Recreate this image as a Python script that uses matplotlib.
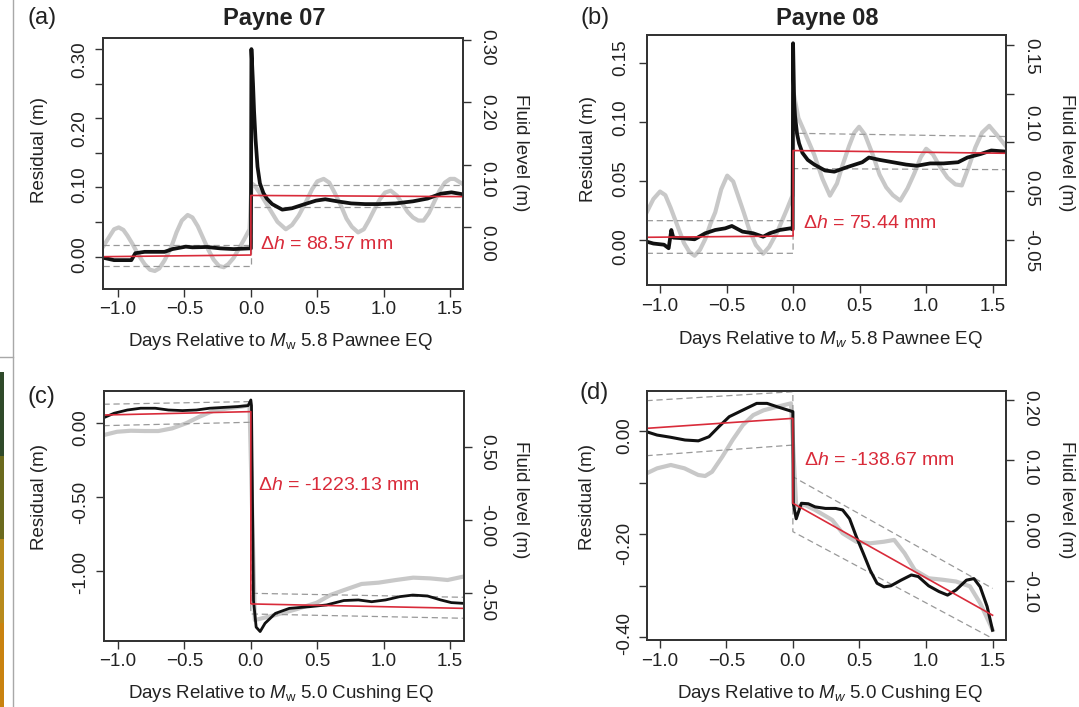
import matplotlib
matplotlib.use('Agg')
import matplotlib.pyplot as plt
from matplotlib.transforms import ScaledTranslation
from matplotlib.colors import LinearSegmentedColormap
import numpy as np

plt.rcParams['font.family'] = ['Liberation Sans', 'DejaVu Sans']
plt.rcParams['mathtext.fontset'] = 'custom'
plt.rcParams['mathtext.rm'] = 'Liberation Sans'
plt.rcParams['mathtext.it'] = 'Liberation Sans:italic'
plt.rcParams['mathtext.bf'] = 'Liberation Sans:bold'

# ---- data ----
xticks = [-1.0, -0.5, 0.0, 0.5, 1.0, 1.5]
xticklabels = ['\u22121.0', '\u22120.5', '0.0', '0.5', '1.0', '1.5']

# (a) Payne 07, Pawnee
a_res_x = [-1.1, -1.03, -0.9, -0.87, -0.8, -0.65, -0.59, -0.49, -0.44, -0.33, -0.23, -0.13, -0.01, 0.0,
           0.004, 0.016, 0.024, 0.035, 0.05, 0.068, 0.094, 0.12, 0.16, 0.236, 0.31, 0.39, 0.49, 0.56,
           0.65, 0.755, 0.86, 0.96, 1.09, 1.22, 1.33, 1.43, 1.51, 1.6]
a_res_y = [-0.002, -0.005, -0.005, 0.005, 0.007, 0.007, 0.011, 0.0145, 0.0135, 0.014, 0.012, 0.011, 0.012, 0.012,
           0.30, 0.25, 0.21, 0.17, 0.13, 0.106, 0.092, 0.084, 0.076, 0.068, 0.07, 0.075, 0.081, 0.083,
           0.08, 0.077, 0.076, 0.076, 0.077, 0.08, 0.084, 0.091, 0.093, 0.09]
a_flu_x = [-1.11, -1.06, -1.03, -0.995, -0.96, -0.93, -0.89, -0.85, -0.8, -0.76, -0.723, -0.69, -0.65, -0.6,
           -0.56, -0.52, -0.476, -0.44, -0.4, -0.36, -0.32, -0.28, -0.24, -0.204, -0.17, -0.13, -0.09, -0.05,
           -0.01, 0.005, 0.03, 0.08, 0.12, 0.16, 0.2, 0.263, 0.31, 0.36, 0.41, 0.46, 0.5, 0.548, 0.59, 0.63,
           0.68, 0.72, 0.76, 0.807, 0.85, 0.89, 0.93, 0.97, 1.01, 1.053, 1.1, 1.14, 1.18, 1.22, 1.26, 1.3,
           1.34, 1.38, 1.42, 1.46, 1.5, 1.533, 1.57, 1.6]
a_flu_y = [-0.031, -0.014, -0.004, -0.001, -0.005, -0.014, -0.028, -0.044, -0.06, -0.069, -0.071, -0.067, -0.054,
           -0.033, -0.009, 0.01, 0.019, 0.015, 0.001, -0.018, -0.037, -0.053, -0.063, -0.065, -0.06, -0.05,
           -0.035, -0.02, -0.004, 0.07, 0.066, 0.05, 0.036, 0.022, 0.008, -0.004, 0.003, 0.018, 0.038, 0.06,
           0.073, 0.077, 0.071, 0.055, 0.033, 0.013, 0.0, -0.009, -0.004, 0.011, 0.028, 0.044, 0.055, 0.058,
           0.05, 0.037, 0.024, 0.015, 0.01, 0.01, 0.022, 0.04, 0.058, 0.071, 0.077, 0.077, 0.072, 0.068]
a_fit_x = [-1.11, 0.0, 0.0, 1.6]
a_fit_y = [0.0, 0.0024, 0.0885, 0.0868]
a_up_y = [0.017, 0.017, 0.1037, 0.1037]
a_lo_y = [-0.0135, -0.0135, 0.0724, 0.0724]

# (b) Payne 08, Pawnee
b_res_x = [-1.1, -1.05, -0.97, -0.935, -0.915, -0.9, -0.82, -0.74, -0.66, -0.585, -0.51, -0.46, -0.38, -0.3,
           -0.225, -0.175, -0.1, -0.02, -0.003, 0.0, 0.008, 0.015, 0.03, 0.045, 0.07, 0.11, 0.16, 0.24, 0.31,
           0.41, 0.52, 0.57, 0.65, 0.75, 0.85, 0.93, 1.03, 1.13, 1.24, 1.31, 1.41, 1.49, 1.6]
b_res_y = [-0.0014, -0.003, -0.004, -0.007, 0.0085, 0.002, 0.0014, 0.0006, 0.0057, 0.0085, 0.0099, 0.0119, 0.0071,
           0.0057, 0.0028, 0.0057, 0.0085, 0.0099, 0.009, 0.167, 0.118, 0.105, 0.09, 0.082, 0.074, 0.068, 0.064,
           0.059, 0.058, 0.062, 0.066, 0.07, 0.068, 0.066, 0.064, 0.063, 0.065, 0.065, 0.066, 0.07, 0.073, 0.076,
           0.075]
b_flu_x = [-1.1, -1.05, -1.0, -0.96, -0.92, -0.87, -0.82, -0.78, -0.74, -0.7, -0.66, -0.62, -0.585, -0.54,
           -0.495, -0.45, -0.405, -0.37, -0.33, -0.28, -0.225, -0.18, -0.12, -0.045, -0.005, 0.005, 0.04, 0.085,
           0.16, 0.22, 0.277, 0.33, 0.37, 0.42, 0.46, 0.496, 0.54, 0.6, 0.65, 0.7, 0.75, 0.805, 0.86, 0.91, 0.96,
           1.0, 1.05, 1.1, 1.16, 1.22, 1.268, 1.32, 1.37, 1.42, 1.474, 1.53, 1.6]
b_flu_y = [-0.0216, -0.008, -0.0003, -0.004, -0.017, -0.035, -0.053, -0.062, -0.066, -0.06, -0.049, -0.033, -0.0216,
           0.002, 0.016, 0.01, -0.008, -0.022, -0.039, -0.055, -0.064, -0.057, -0.042, -0.018, -0.0045, 0.1, 0.075,
           0.061, 0.037, 0.013, -0.0045, 0.008, 0.026, 0.046, 0.06, 0.066, 0.058, 0.037, 0.017, 0.004, -0.004,
           -0.0096, 0.003, 0.018, 0.035, 0.0435, 0.038, 0.026, 0.014, 0.007, 0.006, 0.025, 0.045, 0.06, 0.067,
           0.058, 0.046]
b_fit_x = [-1.1, 0.0, 0.0, 1.6]
b_fit_y = [0.0023, 0.0034, 0.0759, 0.0736]
b_up_y = [0.0164, 0.0164, 0.0906, 0.0878]
b_lo_y = [-0.0113, -0.0113, 0.0606, 0.0597]

# (c) Payne 07, Cushing
c_res_x = [-1.1, -1.03, -0.93, -0.83, -0.72, -0.62, -0.515, -0.41, -0.31, -0.2, -0.1, -0.02, 0.0, 0.005, 0.02,
           0.04, 0.07, 0.107, 0.185, 0.29, 0.44, 0.57, 0.7, 0.81, 0.91, 1.015, 1.12, 1.22, 1.33, 1.43, 1.51, 1.6]
c_res_y = [0.041, 0.068, 0.09, 0.102, 0.102, 0.09, 0.086, 0.09, 0.102, 0.108, 0.113, 0.12, 0.158, 0.12, -1.2,
           -1.38, -1.41, -1.354, -1.287, -1.253, -1.242, -1.23, -1.2, -1.196, -1.208, -1.196, -1.174, -1.163,
           -1.169, -1.196, -1.214, -1.219]
c_flu_x = [-1.106, -1.008, -0.904, -0.8, -0.697, -0.593, -0.49, -0.386, -0.282, -0.178, -0.074, -0.01, 0.03,
           0.185, 0.34, 0.496, 0.6, 0.704, 0.834, 0.963, 1.093, 1.223, 1.352, 1.482, 1.6]
c_flu_y = [0.58, 0.602, 0.609, 0.607, 0.607, 0.625, 0.659, 0.705, 0.745, 0.761, 0.773, 0.784, -0.682, -0.648,
           -0.609, -0.564, -0.511, -0.477, -0.436, -0.427, -0.409, -0.393, -0.398, -0.409, -0.386]
c_fit_x = [-1.11, 0.0, 0.0, 1.6]
c_fit_y = [0.056, 0.079, -1.223, -1.253]
c_up_y = [0.129, 0.147, -1.151, -1.178]
c_lo_y = [-0.016, 0.007, -1.291, -1.32]

# (d) Payne 08, Cushing
d_res_x = [-1.1, -1.02, -0.92, -0.81, -0.71, -0.63, -0.556, -0.478, -0.375, -0.272, -0.194, -0.117, -0.039, 0.0,
           0.003, 0.025, 0.064, 0.116, 0.167, 0.245, 0.322, 0.374, 0.426, 0.477, 0.529, 0.581, 0.632, 0.684,
           0.736, 0.813, 0.89, 0.942, 1.02, 1.097, 1.162, 1.226, 1.304, 1.36, 1.407, 1.459, 1.5]
d_res_y = [-0.0013, -0.0078, -0.012, -0.0174, -0.019, -0.011, 0.0084, 0.0278, 0.0407, 0.0536, 0.0536, 0.047,
           0.0407, 0.0375, -0.14, -0.17, -0.14, -0.141, -0.147, -0.15, -0.15, -0.153, -0.17, -0.205, -0.237,
           -0.27, -0.295, -0.302, -0.3, -0.289, -0.279, -0.282, -0.3, -0.311, -0.318, -0.308, -0.289, -0.286,
           -0.302, -0.34, -0.386]
d_flu_x = [-1.098, -1.02, -0.917, -0.814, -0.711, -0.659, -0.607, -0.53, -0.452, -0.375, -0.298, -0.22, -0.117,
           -0.014, 0.025, 0.09, 0.167, 0.296, 0.374, 0.477, 0.581, 0.684, 0.761, 0.839, 0.916, 1.02, 1.123,
           1.226, 1.33, 1.407, 1.5]
d_flu_y = [0.0785, 0.0867, 0.0923, 0.0867, 0.0757, 0.074, 0.081, 0.106, 0.134, 0.1586, 0.175, 0.183, 0.189,
           0.1945, 0.023, 0.026, 0.0177, 0.001, -0.021, -0.035, -0.0376, -0.035, -0.032, -0.054, -0.082, -0.0956,
           -0.098, -0.101, -0.109, -0.137, -0.181]
d_fit_x = [-1.1, 0.0, 0.0, 1.5]
d_fit_y = [0.0052, 0.0246, -0.14, -0.357]
d_up_y = [0.0588, 0.0762, -0.0885, -0.305]
d_lo_y = [-0.0478, -0.0272, -0.195, -0.402]

# axis ticks / labels (left = residual, right = fluid level)
a_lticks = [0.0, 0.05, 0.10, 0.15, 0.20, 0.25, 0.30]
a_llabels = ['0.00', '0.10', '0.20', '0.30']
a_rticks = [0.0, 0.1, 0.2, 0.3]
a_rlabels = ['0.00', '0.10', '0.20', '0.30']
b_lticks = [0.0, 0.05, 0.10, 0.15]
b_llabels = ['0.00', '0.05', '0.10', '0.15']
b_rticks = [-0.05, 0.0, 0.05, 0.10, 0.15]
b_rlabels = ['-0.05', '0.05', '0.10', '0.15']
c_lticks = [-1.0, -0.5, 0.0]
c_llabels = ['-1.00', '-0.50', '0.00']
c_rticks = [-0.5, 0.0, 0.5]
c_rlabels = ['-0.50', '-0.00', '0.50']
d_lticks = [-0.4, -0.3, -0.2, -0.1, 0.0]
d_llabels = ['-0.40', '-0.20', '0.00']
d_rticks = [-0.1, 0.0, 0.1, 0.2]
d_rlabels = ['-0.10', '0.00', '0.10', '0.20']

W, H = 1079, 707
fig = plt.figure(figsize=(W / 100, H / 100), dpi=100)
RED = '#d92b3a'
TXT = '#222222'


def box(x0, x1, y0, y1):
    return [x0 / W, 1 - y1 / H, (x1 - x0) / W, (y1 - y0) / H]


def ftext(x, y, s, **kw):
    fig.text(x / W, 1 - y / H, s, **kw)


def ylabs(a, pos, labs, dx, rot):
    tr = a.get_yaxis_transform() + ScaledTranslation(dx / 100, 0, fig.dpi_scale_trans)
    xa = 0 if dx < 0 else 1
    for p, t in zip(pos, labs):
        a.text(xa, p, t, transform=tr, rotation=rot, ha='center', va='center',
               fontsize=13.5, color=TXT, clip_on=False)


def panel(rect, xlim, ylim, ylim2, rx, ry, fx, fy, kx, ky, uy, ly,
          lt, lpos, ll, rt, rpos, rl, ldx, rdx, dh_xy, dh, blw):
    ax = fig.add_axes(box(*rect))
    ax2 = ax.twinx()
    ax.set_zorder(ax2.get_zorder() + 1)
    ax.patch.set_visible(False)
    ax2.plot(fx, fy, color='#c8c8c8', lw=3.0, solid_joinstyle='round')
    ax.plot(kx, uy, color='#999999', lw=0.9, dashes=(5, 3))
    ax.plot(kx, ly, color='#999999', lw=0.9, dashes=(5, 3))
    ax.plot(rx, ry, color='#111111', lw=blw, solid_joinstyle='round')
    ax.plot(kx, ky, color=RED, lw=1.2)
    ax.set_xlim(xlim)
    ax.set_ylim(ylim)
    ax2.set_ylim(ylim2)
    ax.set_xticks(xticks)
    ax.set_xticklabels(xticklabels)
    ax.set_yticks(lt)
    ax.set_yticklabels([])
    ax2.set_yticks(rt)
    ax2.set_yticklabels([])
    ax.tick_params(axis='x', length=6, width=1, pad=3, labelsize=13.5, color='#333333', labelcolor=TXT)
    ax.tick_params(axis='y', length=6, width=1, color='#333333')
    ax2.tick_params(axis='y', length=6, width=1, color='#333333')
    for a in (ax, ax2):
        for s in a.spines.values():
            s.set_color('#333333')
            s.set_linewidth(1.3)
    ylabs(ax, lpos, ll, ldx, 90)
    ylabs(ax2, rpos, rl, rdx, -90)
    ax.text(dh_xy[0], dh_xy[1], dh, color=RED, fontsize=14, ha='left', va='center')
    return ax


panel((103.3, 463.3, 38.3, 289), (-1.111, 1.599), (-0.0467, 0.3156), (-0.100, 0.303),
      a_res_x, a_res_y, a_flu_x, a_flu_y, a_fit_x, a_fit_y, a_up_y, a_lo_y,
      a_lticks, [0.0025, 0.104, 0.185, 0.285], a_llabels,
      a_rticks, [-0.027, 0.077, 0.184, 0.288], a_rlabels, -24, 23,
      (0.07, 0.018), r'$\Delta\mathit{h}$ = 88.57 mm', 2.7)

panel((647.1, 1006, 35, 285), (-1.097, 1.6), (-0.0382, 0.174), (-0.096, 0.160),
      b_res_x, b_res_y, b_flu_x, b_flu_y, b_fit_x, b_fit_y, b_up_y, b_lo_y,
      b_lticks, [-0.0057, 0.052, 0.104, 0.1545], b_llabels,
      b_rticks, [-0.061, 0.0033, 0.070, 0.138], b_rlabels, -26, 25,
      (0.076, 0.0136), r'$\Delta\mathit{h}$ = 75.44 mm', 2.7)

panel((104, 463.8, 391, 641), (-1.106, 1.604), (-1.474, 0.2187), (-0.825, 0.88),
      c_res_x, c_res_y, c_flu_x, c_flu_y, c_fit_x, c_fit_y, c_up_y, c_lo_y,
      c_lticks, [-1.01, -0.538, -0.032], c_llabels,
      c_rticks, [-0.545, -0.041, 0.46], c_rlabels, -23, 23,
      (0.056, -0.418), r'$\Delta\mathit{h}$ = -1223.13 mm', 2.0)

panel((646.7, 1006, 391, 640), (-1.098, 1.601), (-0.405, 0.0776), (-0.198, 0.215),
      d_res_x, d_res_y, d_flu_x, d_flu_y, d_fit_x, d_fit_y, d_up_y, d_lo_y,
      d_lticks, [-0.392, -0.217, -0.0097], d_llabels,
      d_rticks, [-0.118, -0.0155, 0.088, 0.187], d_rlabels, -22, 24,
      (0.085, -0.0576), r'$\Delta\mathit{h}$ = -138.67 mm', 2.2)

# titles, panel letters, axis titles
ftext(274.6, 18.3, 'Payne 07', fontsize=17, fontweight='bold', ha='center', va='center', color=TXT)
ftext(827.5, 18.3, 'Payne 08', fontsize=17, fontweight='bold', ha='center', va='center', color=TXT)
for (x, y, s) in [(27.5, 18.3, '(a)'), (581, 18.3, '(b)'), (27.5, 396.7, '(c)'), (579.6, 393.3, '(d)')]:
    ftext(x, y, s, fontsize=17, ha='left', va='center', color=TXT)
for (x, y) in [(39.6, 150), (588.2, 149), (39.6, 497), (588, 497)]:
    ftext(x, y, 'Residual (m)', fontsize=13.5, rotation=90, ha='center', va='center', color=TXT)
for (x, y) in [(520, 152.5), (1066.7, 152.5), (520, 500), (1066.7, 500)]:
    ftext(x, y, 'Fluid level (m)', fontsize=13.5, rotation=-90, ha='center', va='center', color=TXT)
ftext(280, 341.7, r'Days Relative to $M_{\mathrm{w}}$ 5.8 Pawnee EQ', fontsize=13.5, ha='center', va='center', color=TXT)
ftext(830, 340, r'Days Relative to $M_{w}$ 5.8 Pawnee EQ', fontsize=13.5, ha='center', va='center', color=TXT)
ftext(280.6, 693, r'Days Relative to $M_{\mathrm{w}}$ 5.0 Cushing EQ', fontsize=13.5, ha='center', va='center', color=TXT)
ftext(830, 693, r'Days Relative to $M_{w}$ 5.0 Cushing EQ', fontsize=13.5, ha='center', va='center', color=TXT)

# page edge left over from the source layout
fig.add_artist(plt.Line2D([13 / W, 13 / W], [0, 1], transform=fig.transFigure, color='#a8a8a8', lw=1))
fig.add_artist(plt.Line2D([0, 13 / W], [1 - 357 / H, 1 - 357 / H], transform=fig.transFigure, color='#a8a8a8', lw=1))
strip = fig.add_axes(box(0, 4, 372, 707))
strip.imshow(np.arange(4).reshape(-1, 1), aspect='auto',
             cmap=LinearSegmentedColormap.from_list('s', ['#2f4a2a', '#6b6a1e', '#b88a1c', '#c9820f']))
strip.axis('off')

fig.savefig('out.png', dpi=100)
